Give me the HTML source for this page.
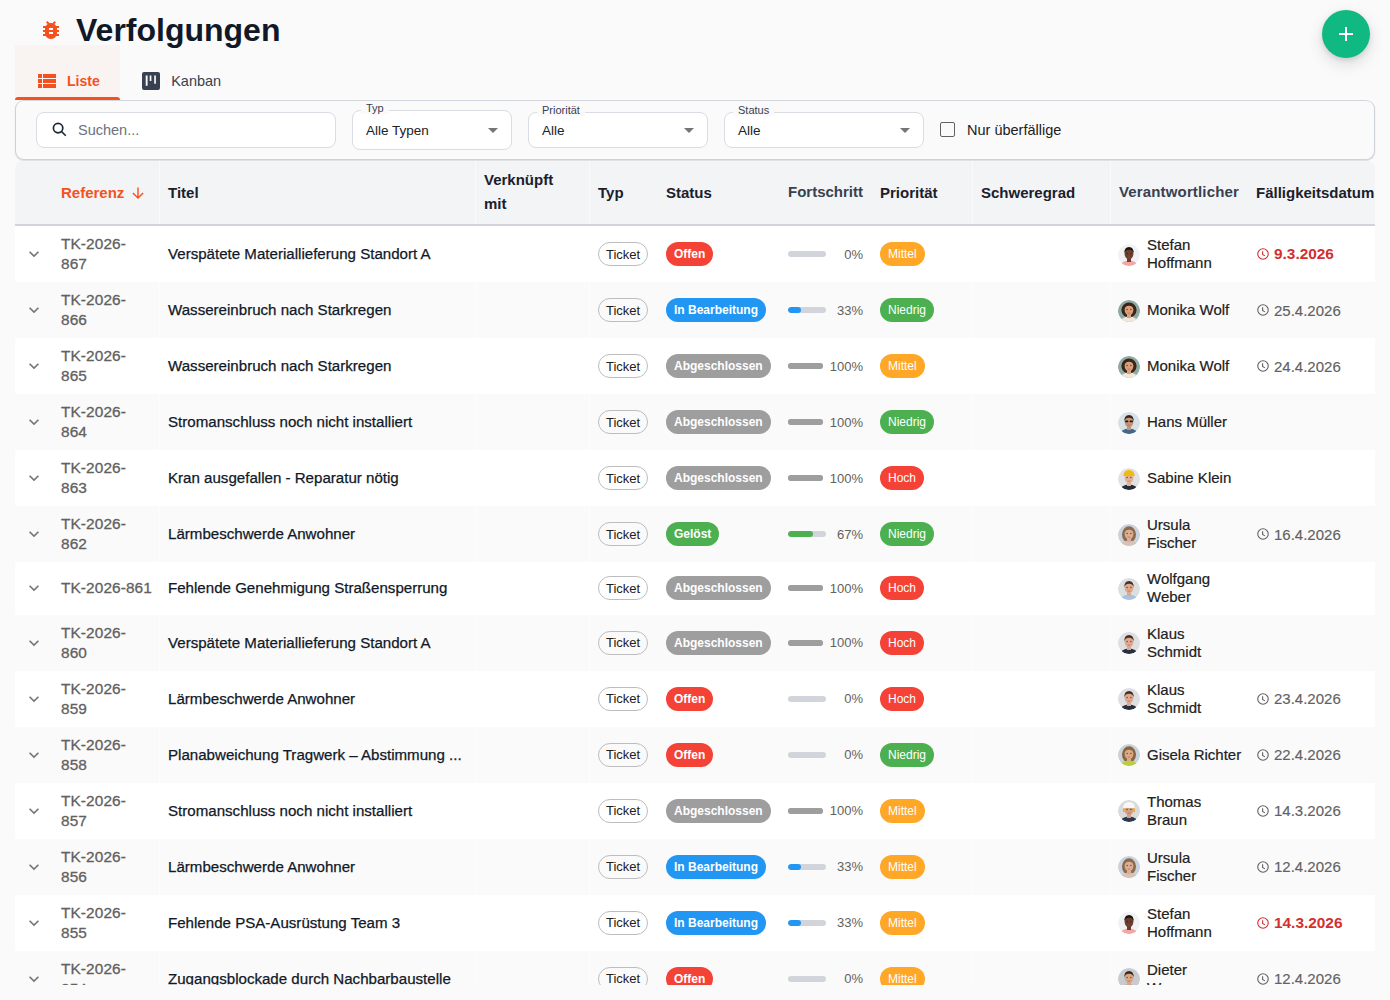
<!DOCTYPE html>
<html><head><meta charset="utf-8"><style>
*{box-sizing:border-box;margin:0;padding:0}
html,body{width:1390px;height:1000px;overflow:hidden;background:#fafafa;font-family:"Liberation Sans", sans-serif;color:#111827}
.abs{position:absolute}
.title{position:absolute;left:76px;top:10px;font-size:32px;font-weight:700;color:#111827;line-height:40px;letter-spacing:0}
.tab{position:absolute;top:45px;height:55px;display:flex;align-items:center;font-size:15px}
.filter{position:absolute;left:15px;top:100px;width:1360px;height:60px;border:1px solid #cdd1d8;border-top-color:#d3d7dd;border-radius:9px;background:#fafafa;box-shadow:0 1px 1.5px rgba(0,0,0,.12)}
.inp{position:absolute;background:#fff;border:1px solid #d9dce2;border-radius:8px}
.lbl{position:absolute;font-size:11px;color:#374151;background:#fafafa;padding:0 5px;line-height:12px;margin-left:-1px}
.val{position:absolute;font-size:13.5px;color:#212121;line-height:18px}
.tri{position:absolute;width:0;height:0;border-left:5px solid transparent;border-right:5px solid transparent;border-top:5px solid #757575}
.tbl{position:absolute;left:15px;top:161px;width:1360px;height:824px;overflow:hidden;border-radius:8px 8px 0 0}
.thead{position:absolute;left:0;top:0;width:1360px;height:63px;background:#f3f4f6;border-bottom:2px solid #d1d5db;box-sizing:content-box}
.th{position:absolute;top:0;height:63px;display:flex;align-items:center;font-size:15px;font-weight:700;line-height:24px;color:#1a202c}
.th.l{color:#374151;margin-top:-1px}
.sep{position:absolute;top:0;width:1px;height:63px;background:#f9fafb}
.row{position:absolute;left:15px;width:1360px}
.c{position:absolute;top:0;bottom:0;display:flex;align-items:center}
.ref{font-size:15.4px;line-height:20px;color:#616161;letter-spacing:.1px;-webkit-text-stroke:0.3px #616161}
.ttl{font-size:15.1px;line-height:20px;color:#111827;white-space:nowrap;-webkit-text-stroke:0.25px #111827}
.chip-o{display:inline-flex;align-items:center;height:24px;padding:0 7px;border:1px solid #bdbdbd;border-radius:12px;font-size:13px;color:#212121;background:transparent}
.chip-s{display:inline-flex;align-items:center;height:24px;padding:0 8px;border-radius:12px;font-size:12px;font-weight:700;color:#fff;white-space:nowrap}
.chip-p{display:inline-flex;align-items:center;height:24px;padding:0 8px;border-radius:12px;font-size:12px;color:#fff}
.prog{justify-content:space-between}
.bar{position:relative;height:6px;border-radius:3px;overflow:hidden}
.pct{font-size:13px;color:#616161}
.resp .av{display:block;width:22px;height:22px;border-radius:50%;overflow:hidden;margin-right:7px;flex:none;margin-top:1px}
.nm{font-size:15px;line-height:18px;color:#212121;-webkit-text-stroke:0.2px #212121}
.due{font-size:15px;color:#616161;-webkit-text-stroke:0.15px #616161}
.due span{margin-left:5px}
.due.od{color:#d32f2f;font-weight:700;font-size:15.4px;-webkit-text-stroke:0 transparent}
.fab{position:absolute;left:1322px;top:10px;width:48px;height:48px;border-radius:50%;background:#10b981;box-shadow:0 6px 16px rgba(0,0,0,.13),0 2px 5px rgba(0,0,0,.1)}
</style></head><body>
<svg class="abs" style="left:39px;top:18px" width="24" height="24" viewBox="0 0 24 24"><path fill="#f4511e" d="M20 8h-2.81c-.45-.78-1.07-1.45-1.82-1.96L17 4.41 15.59 3l-2.17 2.17C12.96 5.06 12.49 5 12 5c-.49 0-.96.06-1.41.17L8.41 3 7 4.41l1.62 1.63C7.88 6.55 7.26 7.22 6.81 8H4v2h2.09c-.05.33-.09.66-.09 1v1H4v2h2v1c0 .34.04.67.09 1H4v2h2.81c1.04 1.79 2.97 3 5.19 3s4.15-1.21 5.19-3H20v-2h-2.09c.05-.33.09-.66.09-1v-1h2v-2h-2v-1c0-.34-.04-.67-.09-1H20V8zm-6 8h-4v-2h4v2zm0-4h-4v-2h4v2z"/></svg>
<div class="title">Verfolgungen</div>

<div class="abs" style="left:15px;top:45px;width:104.5px;height:55px;background:#f9f4f1"></div>
<div class="abs" style="left:15px;top:97px;width:104.5px;height:3px;background:#f4511e;border-radius:3px 3px 0 0"></div>
<svg class="abs" style="left:35px;top:69px" width="24" height="24" viewBox="0 0 24 24"><path fill="#f4511e" d="M3 14h4v-4H3v4zm0 5h4v-4H3v4zM3 9h4V5H3v4zm5 5h13v-4H8v4zm0 5h13v-4H8v4zM8 5v4h13V5H8z"/></svg>
<div class="abs" style="left:67px;top:72px;font-size:14px;font-weight:700;color:#f4511e;line-height:18px">Liste</div>
<svg class="abs" style="left:139px;top:69px" width="24" height="24" viewBox="0 0 24 24"><path fill="#374151" fill-rule="evenodd" d="M19 3H5a2 2 0 0 0-2 2v14a2 2 0 0 0 2 2h14a2 2 0 0 0 2-2V5a2 2 0 0 0-2-2zM8.6 16.7H6.7V6.4h1.9zM12.4 12H10.7V6.4h1.7zM16.9 14.7H15.2V6.4h1.7z"/></svg>
<div class="abs" style="left:171.2px;top:72px;font-size:14.5px;color:#374151;line-height:18px">Kanban</div>

<div class="filter"></div>
<div class="inp" style="left:36px;top:112px;width:300px;height:36px"></div>
<svg class="abs" style="left:52px;top:122px" width="15" height="15" viewBox="0 0 15 15"><circle cx="6.1" cy="6.1" r="4.7" fill="none" stroke="#1f2937" stroke-width="1.7"/><path d="M9.6 9.6L13.8 13.8" stroke="#1f2937" stroke-width="1.6" fill="none"/></svg>
<div class="val" style="left:78px;top:121px;color:#6b7280;font-size:14.5px">Suchen...</div>

<div class="inp" style="left:352px;top:110px;width:160px;height:40px"></div>
<div class="lbl" style="left:362px;top:102px">Typ</div>
<div class="val" style="left:366px;top:122px">Alle Typen</div>
<div class="tri" style="left:488px;top:128px"></div>

<div class="inp" style="left:528px;top:112px;width:180px;height:36px"></div>
<div class="lbl" style="left:538px;top:104px">Priorität</div>
<div class="val" style="left:542px;top:122px">Alle</div>
<div class="tri" style="left:684px;top:128px"></div>

<div class="inp" style="left:724px;top:112px;width:200px;height:36px"></div>
<div class="lbl" style="left:734px;top:104px">Status</div>
<div class="val" style="left:738px;top:122px">Alle</div>
<div class="tri" style="left:900px;top:128px"></div>

<div class="abs" style="left:940.3px;top:122.4px;width:15.2px;height:15px;border:1.8px solid #616161;border-radius:2px"></div>
<div class="val" style="left:967px;top:121px;font-size:14.5px">Nur überfällige</div>

<div class="tbl">
<div class="thead">
 <div class="th" style="left:46px;color:#f4511e">Referenz<svg style="margin-left:8px;margin-top:1px" width="12" height="12" viewBox="0 0 12 12"><path d="M6 .6V11M.9 5.9L6 11l5.1-5.1" fill="none" stroke="#f4511e" stroke-width="1.4"/></svg></div>
 <div class="th" style="left:153px">Titel</div>
 <div class="th" style="left:469px;margin-top:-0.6px">Verknüpft<br>mit</div>
 <div class="th" style="left:583px">Typ</div>
 <div class="th" style="left:651px">Status</div>
 <div class="th l" style="left:773px">Fortschritt</div>
 <div class="th" style="left:865px">Priorität</div>
 <div class="th" style="left:966px">Schweregrad</div>
 <div class="th l" style="left:1104px;letter-spacing:.15px">Verantwortlicher</div>
 <div class="th" style="left:1241px">Fälligkeitsdatum</div>
 <div class="sep" style="left:144px"></div>
 <div class="sep" style="left:460px"></div>
 <div class="sep" style="left:574px"></div>
 <div class="sep" style="left:957px"></div>
 <div class="sep" style="left:1095px"></div>
</div>
</div>
<div class="abs" style="left:15px;top:226px;width:1360px;height:759px;overflow:hidden">
<div style="position:absolute;left:-15px;top:-226px">
<div class="row" style="top:226px;height:56px;background:#fff"><div class="c" style="left:9px"><svg width="20" height="20" viewBox="0 0 24 24" style="display:block"><path fill="#757575" d="M16.59 8.59L12 13.17 7.41 8.59 6 10l6 6 6-6z"/></svg></div><div class="c ref" style="left:46px">TK-2026-<br>867</div><div class="c ttl" style="left:153px">Verspätete Materiallieferung Standort A</div><div class="c" style="left:583px"><span class="chip-o">Ticket</span></div><div class="c" style="left:651px"><span class="chip-s" style="background:#f44336">Offen</span></div><div class="c prog" style="left:773px;width:75px"><div class="bar" style="width:38px;background:#d1d5db"></div><span class="pct">0%</span></div><div class="c" style="left:865px"><span class="chip-p" style="background:#ffa726">Mittel</span></div><div class="c resp" style="left:1103px"><span class="av"><svg width="22" height="22" viewBox="-0.5 -0.5 22 22" style="display:block"><defs><clipPath id="c_stefan"><circle cx="10.5" cy="10.5" r="11"/></clipPath></defs><g clip-path="url(#c_stefan)"><rect x="-0.5" y="-0.5" width="22" height="22" fill="#f2f2f4"/><ellipse cx="10.5" cy="22.5" rx="9.5" ry="6.5" fill="#f3a6a2"/><rect x="8.5" y="12.5" width="4" height="5" fill="#6b3e2e"/><ellipse cx="10.5" cy="9.3" rx="4.4" ry="5.6" fill="#6b3e2e"/><path d="M5.9 9 Q5.5 2.4 10.5 2.4 Q15.5 2.4 15.1 9 Q14.6 5.6 10.5 5.3 Q6.4 5.6 5.9 9Z" fill="#1e1410"/><circle cx="8.6" cy="9" r=".65" fill="#2a1e18" opacity=".8"/><circle cx="12.4" cy="9" r=".65" fill="#2a1e18" opacity=".8"/><path d="M9.2 12.4 Q10.5 13.2 11.8 12.4" stroke="#a05050" stroke-width=".7" fill="none" opacity=".7"/></g></svg></span><span class="nm">Stefan<br>Hoffmann</span></div><div class="c due od" style="left:1242px"><svg width="12" height="12" viewBox="0 0 12 12" style="display:block;flex:none"><circle cx="6" cy="6" r="5.25" fill="none" stroke="#d32f2f" stroke-width="1.1"/><path d="M5.6 3.2V6.4L7.9 7.9" fill="none" stroke="#d32f2f" stroke-width="1.1"/></svg><span>9.3.2026</span></div></div>
<div class="row" style="top:282px;height:56px;background:#fafafa"><div style="position:absolute;left:1095px;top:0;bottom:0;width:1px;background:#fdfdfd"></div><div style="position:absolute;left:957px;top:0;bottom:0;width:1px;background:#fdfdfd"></div><div style="position:absolute;left:574px;top:0;bottom:0;width:1px;background:#fdfdfd"></div><div style="position:absolute;left:460px;top:0;bottom:0;width:1px;background:#fdfdfd"></div><div style="position:absolute;left:144px;top:0;bottom:0;width:1px;background:#fdfdfd"></div><div class="c" style="left:9px"><svg width="20" height="20" viewBox="0 0 24 24" style="display:block"><path fill="#757575" d="M16.59 8.59L12 13.17 7.41 8.59 6 10l6 6 6-6z"/></svg></div><div class="c ref" style="left:46px">TK-2026-<br>866</div><div class="c ttl" style="left:153px">Wassereinbruch nach Starkregen</div><div class="c" style="left:583px"><span class="chip-o">Ticket</span></div><div class="c" style="left:651px"><span class="chip-s" style="background:#2196f3">In Bearbeitung</span></div><div class="c prog" style="left:773px;width:75px"><div class="bar" style="width:38px;background:#d1d5db"><div style="position:absolute;left:0;top:0;bottom:0;width:33%;background:#2196f3;border-radius:3px"></div></div><span class="pct">33%</span></div><div class="c" style="left:865px"><span class="chip-p" style="background:#4caf50">Niedrig</span></div><div class="c resp" style="left:1103px"><span class="av"><svg width="22" height="22" viewBox="-0.5 -0.5 22 22" style="display:block"><defs><clipPath id="c_monika"><circle cx="10.5" cy="10.5" r="11"/></clipPath></defs><g clip-path="url(#c_monika)"><rect x="-0.5" y="-0.5" width="22" height="22" fill="#8faaa2"/><ellipse cx="10.5" cy="9.5" rx="7.6" ry="7.4" fill="#3a2618"/><ellipse cx="10.5" cy="22.5" rx="9.5" ry="6.5" fill="#efe6dc"/><rect x="8.5" y="12.5" width="4" height="5" fill="#d8a07c"/><ellipse cx="10.5" cy="9.3" rx="4.4" ry="5.6" fill="#d8a07c"/><path d="M5.9 9 Q5.5 2.4 10.5 2.4 Q15.5 2.4 15.1 9 Q14.6 5.6 10.5 5.3 Q6.4 5.6 5.9 9Z" fill="#3a2618"/><circle cx="8.6" cy="9" r=".65" fill="#2a1e18" opacity=".8"/><circle cx="12.4" cy="9" r=".65" fill="#2a1e18" opacity=".8"/><path d="M9.2 12.4 Q10.5 13.2 11.8 12.4" stroke="#a05050" stroke-width=".7" fill="none" opacity=".7"/></g></svg></span><span class="nm">Monika Wolf</span></div><div class="c due" style="left:1242px"><svg width="12" height="12" viewBox="0 0 12 12" style="display:block;flex:none"><circle cx="6" cy="6" r="5.25" fill="none" stroke="#616161" stroke-width="1.1"/><path d="M5.6 3.2V6.4L7.9 7.9" fill="none" stroke="#616161" stroke-width="1.1"/></svg><span>25.4.2026</span></div></div>
<div class="row" style="top:338px;height:56px;background:#fff"><div class="c" style="left:9px"><svg width="20" height="20" viewBox="0 0 24 24" style="display:block"><path fill="#757575" d="M16.59 8.59L12 13.17 7.41 8.59 6 10l6 6 6-6z"/></svg></div><div class="c ref" style="left:46px">TK-2026-<br>865</div><div class="c ttl" style="left:153px">Wassereinbruch nach Starkregen</div><div class="c" style="left:583px"><span class="chip-o">Ticket</span></div><div class="c" style="left:651px"><span class="chip-s" style="background:#9e9e9e">Abgeschlossen</span></div><div class="c prog" style="left:773px;width:75px"><div class="bar" style="width:35px;background:#9e9e9e"><div style="position:absolute;left:0;top:0;bottom:0;width:100%;background:#9e9e9e;border-radius:3px"></div></div><span class="pct">100%</span></div><div class="c" style="left:865px"><span class="chip-p" style="background:#ffa726">Mittel</span></div><div class="c resp" style="left:1103px"><span class="av"><svg width="22" height="22" viewBox="-0.5 -0.5 22 22" style="display:block"><defs><clipPath id="c_monika"><circle cx="10.5" cy="10.5" r="11"/></clipPath></defs><g clip-path="url(#c_monika)"><rect x="-0.5" y="-0.5" width="22" height="22" fill="#8faaa2"/><ellipse cx="10.5" cy="9.5" rx="7.6" ry="7.4" fill="#3a2618"/><ellipse cx="10.5" cy="22.5" rx="9.5" ry="6.5" fill="#efe6dc"/><rect x="8.5" y="12.5" width="4" height="5" fill="#d8a07c"/><ellipse cx="10.5" cy="9.3" rx="4.4" ry="5.6" fill="#d8a07c"/><path d="M5.9 9 Q5.5 2.4 10.5 2.4 Q15.5 2.4 15.1 9 Q14.6 5.6 10.5 5.3 Q6.4 5.6 5.9 9Z" fill="#3a2618"/><circle cx="8.6" cy="9" r=".65" fill="#2a1e18" opacity=".8"/><circle cx="12.4" cy="9" r=".65" fill="#2a1e18" opacity=".8"/><path d="M9.2 12.4 Q10.5 13.2 11.8 12.4" stroke="#a05050" stroke-width=".7" fill="none" opacity=".7"/></g></svg></span><span class="nm">Monika Wolf</span></div><div class="c due" style="left:1242px"><svg width="12" height="12" viewBox="0 0 12 12" style="display:block;flex:none"><circle cx="6" cy="6" r="5.25" fill="none" stroke="#616161" stroke-width="1.1"/><path d="M5.6 3.2V6.4L7.9 7.9" fill="none" stroke="#616161" stroke-width="1.1"/></svg><span>24.4.2026</span></div></div>
<div class="row" style="top:394px;height:56px;background:#fafafa"><div style="position:absolute;left:1095px;top:0;bottom:0;width:1px;background:#fdfdfd"></div><div style="position:absolute;left:957px;top:0;bottom:0;width:1px;background:#fdfdfd"></div><div style="position:absolute;left:574px;top:0;bottom:0;width:1px;background:#fdfdfd"></div><div style="position:absolute;left:460px;top:0;bottom:0;width:1px;background:#fdfdfd"></div><div style="position:absolute;left:144px;top:0;bottom:0;width:1px;background:#fdfdfd"></div><div class="c" style="left:9px"><svg width="20" height="20" viewBox="0 0 24 24" style="display:block"><path fill="#757575" d="M16.59 8.59L12 13.17 7.41 8.59 6 10l6 6 6-6z"/></svg></div><div class="c ref" style="left:46px">TK-2026-<br>864</div><div class="c ttl" style="left:153px">Stromanschluss noch nicht installiert</div><div class="c" style="left:583px"><span class="chip-o">Ticket</span></div><div class="c" style="left:651px"><span class="chip-s" style="background:#9e9e9e">Abgeschlossen</span></div><div class="c prog" style="left:773px;width:75px"><div class="bar" style="width:35px;background:#9e9e9e"><div style="position:absolute;left:0;top:0;bottom:0;width:100%;background:#9e9e9e;border-radius:3px"></div></div><span class="pct">100%</span></div><div class="c" style="left:865px"><span class="chip-p" style="background:#4caf50">Niedrig</span></div><div class="c resp" style="left:1103px"><span class="av"><svg width="22" height="22" viewBox="-0.5 -0.5 22 22" style="display:block"><defs><clipPath id="c_hans"><circle cx="10.5" cy="10.5" r="11"/></clipPath></defs><g clip-path="url(#c_hans)"><rect x="-0.5" y="-0.5" width="22" height="22" fill="#d6e2e8"/><ellipse cx="10.5" cy="22.5" rx="9.5" ry="6.5" fill="#46668a"/><rect x="8.5" y="12.5" width="4" height="5" fill="#c89478"/><ellipse cx="10.5" cy="9.3" rx="4.4" ry="5.6" fill="#c89478"/><path d="M5.9 9 Q5.5 2.4 10.5 2.4 Q15.5 2.4 15.1 9 Q14.6 5.6 10.5 5.3 Q6.4 5.6 5.9 9Z" fill="#3a2a1e"/><rect x="6.6" y="8.1" width="3.2" height="1.7" rx=".6" fill="#1a1a1a"/><rect x="11.2" y="8.1" width="3.2" height="1.7" rx=".6" fill="#1a1a1a"/><path d="M9.2 12.4 Q10.5 13.2 11.8 12.4" stroke="#a05050" stroke-width=".7" fill="none" opacity=".7"/></g></svg></span><span class="nm">Hans Müller</span></div></div>
<div class="row" style="top:450px;height:56px;background:#fff"><div class="c" style="left:9px"><svg width="20" height="20" viewBox="0 0 24 24" style="display:block"><path fill="#757575" d="M16.59 8.59L12 13.17 7.41 8.59 6 10l6 6 6-6z"/></svg></div><div class="c ref" style="left:46px">TK-2026-<br>863</div><div class="c ttl" style="left:153px">Kran ausgefallen - Reparatur nötig</div><div class="c" style="left:583px"><span class="chip-o">Ticket</span></div><div class="c" style="left:651px"><span class="chip-s" style="background:#9e9e9e">Abgeschlossen</span></div><div class="c prog" style="left:773px;width:75px"><div class="bar" style="width:35px;background:#9e9e9e"><div style="position:absolute;left:0;top:0;bottom:0;width:100%;background:#9e9e9e;border-radius:3px"></div></div><span class="pct">100%</span></div><div class="c" style="left:865px"><span class="chip-p" style="background:#f44336">Hoch</span></div><div class="c resp" style="left:1103px"><span class="av"><svg width="22" height="22" viewBox="-0.5 -0.5 22 22" style="display:block"><defs><clipPath id="c_sabine"><circle cx="10.5" cy="10.5" r="11"/></clipPath></defs><g clip-path="url(#c_sabine)"><rect x="-0.5" y="-0.5" width="22" height="22" fill="#e2e2e6"/><ellipse cx="10.5" cy="22.5" rx="9.5" ry="6.5" fill="#262c3c"/><rect x="8.5" y="12.5" width="4" height="5" fill="#e2b294"/><ellipse cx="10.5" cy="9.3" rx="4.4" ry="5.6" fill="#e2b294"/><path d="M4.8 7.6 Q5 1.6 10.5 1.6 Q16 1.6 16.2 7.6 Z" fill="#f2b90f"/><circle cx="8.6" cy="9" r=".65" fill="#2a1e18" opacity=".8"/><circle cx="12.4" cy="9" r=".65" fill="#2a1e18" opacity=".8"/><path d="M9.2 12.4 Q10.5 13.2 11.8 12.4" stroke="#a05050" stroke-width=".7" fill="none" opacity=".7"/></g></svg></span><span class="nm">Sabine Klein</span></div></div>
<div class="row" style="top:506px;height:56px;background:#fafafa"><div style="position:absolute;left:1095px;top:0;bottom:0;width:1px;background:#fdfdfd"></div><div style="position:absolute;left:957px;top:0;bottom:0;width:1px;background:#fdfdfd"></div><div style="position:absolute;left:574px;top:0;bottom:0;width:1px;background:#fdfdfd"></div><div style="position:absolute;left:460px;top:0;bottom:0;width:1px;background:#fdfdfd"></div><div style="position:absolute;left:144px;top:0;bottom:0;width:1px;background:#fdfdfd"></div><div class="c" style="left:9px"><svg width="20" height="20" viewBox="0 0 24 24" style="display:block"><path fill="#757575" d="M16.59 8.59L12 13.17 7.41 8.59 6 10l6 6 6-6z"/></svg></div><div class="c ref" style="left:46px">TK-2026-<br>862</div><div class="c ttl" style="left:153px">Lärmbeschwerde Anwohner</div><div class="c" style="left:583px"><span class="chip-o">Ticket</span></div><div class="c" style="left:651px"><span class="chip-s" style="background:#4caf50">Gelöst</span></div><div class="c prog" style="left:773px;width:75px"><div class="bar" style="width:38px;background:#d1d5db"><div style="position:absolute;left:0;top:0;bottom:0;width:67%;background:#4caf50;border-radius:3px"></div></div><span class="pct">67%</span></div><div class="c" style="left:865px"><span class="chip-p" style="background:#4caf50">Niedrig</span></div><div class="c resp" style="left:1103px"><span class="av"><svg width="22" height="22" viewBox="-0.5 -0.5 22 22" style="display:block"><defs><clipPath id="c_ursula"><circle cx="10.5" cy="10.5" r="11"/></clipPath></defs><g clip-path="url(#c_ursula)"><rect x="-0.5" y="-0.5" width="22" height="22" fill="#c9d3de"/><ellipse cx="10.5" cy="10" rx="7" ry="8.2" fill="#8c6a4c"/><ellipse cx="10.5" cy="22.5" rx="9.5" ry="6.5" fill="#d6c2b8"/><rect x="8.5" y="12.5" width="4" height="5" fill="#dcae96"/><ellipse cx="10.5" cy="9.3" rx="4.4" ry="5.6" fill="#dcae96"/><path d="M5.9 9 Q5.5 2.4 10.5 2.4 Q15.5 2.4 15.1 9 Q14.6 5.6 10.5 5.3 Q6.4 5.6 5.9 9Z" fill="#8c6a4c"/><circle cx="8.6" cy="9" r=".65" fill="#2a1e18" opacity=".8"/><circle cx="12.4" cy="9" r=".65" fill="#2a1e18" opacity=".8"/><path d="M9.2 12.4 Q10.5 13.2 11.8 12.4" stroke="#a05050" stroke-width=".7" fill="none" opacity=".7"/></g></svg></span><span class="nm">Ursula<br>Fischer</span></div><div class="c due" style="left:1242px"><svg width="12" height="12" viewBox="0 0 12 12" style="display:block;flex:none"><circle cx="6" cy="6" r="5.25" fill="none" stroke="#616161" stroke-width="1.1"/><path d="M5.6 3.2V6.4L7.9 7.9" fill="none" stroke="#616161" stroke-width="1.1"/></svg><span>16.4.2026</span></div></div>
<div class="row" style="top:562px;height:52.5px;background:#fff"><div class="c" style="left:9px"><svg width="20" height="20" viewBox="0 0 24 24" style="display:block"><path fill="#757575" d="M16.59 8.59L12 13.17 7.41 8.59 6 10l6 6 6-6z"/></svg></div><div class="c ref" style="left:46px">TK-2026-861</div><div class="c ttl" style="left:153px">Fehlende Genehmigung Straßensperrung</div><div class="c" style="left:583px"><span class="chip-o">Ticket</span></div><div class="c" style="left:651px"><span class="chip-s" style="background:#9e9e9e">Abgeschlossen</span></div><div class="c prog" style="left:773px;width:75px"><div class="bar" style="width:35px;background:#9e9e9e"><div style="position:absolute;left:0;top:0;bottom:0;width:100%;background:#9e9e9e;border-radius:3px"></div></div><span class="pct">100%</span></div><div class="c" style="left:865px"><span class="chip-p" style="background:#f44336">Hoch</span></div><div class="c resp" style="left:1103px"><span class="av"><svg width="22" height="22" viewBox="-0.5 -0.5 22 22" style="display:block"><defs><clipPath id="c_wolfgang"><circle cx="10.5" cy="10.5" r="11"/></clipPath></defs><g clip-path="url(#c_wolfgang)"><rect x="-0.5" y="-0.5" width="22" height="22" fill="#dcdfe2"/><ellipse cx="10.5" cy="22.5" rx="9.5" ry="6.5" fill="#a8c2e0"/><rect x="8.5" y="12.5" width="4" height="5" fill="#dcaa8c"/><ellipse cx="10.5" cy="9.3" rx="4.4" ry="5.6" fill="#dcaa8c"/><path d="M5.9 9 Q5.5 2.4 10.5 2.4 Q15.5 2.4 15.1 9 Q14.6 5.6 10.5 5.3 Q6.4 5.6 5.9 9Z" fill="#4a3222"/><circle cx="8.6" cy="9" r=".65" fill="#2a1e18" opacity=".8"/><circle cx="12.4" cy="9" r=".65" fill="#2a1e18" opacity=".8"/><path d="M9.2 12.4 Q10.5 13.2 11.8 12.4" stroke="#a05050" stroke-width=".7" fill="none" opacity=".7"/></g></svg></span><span class="nm">Wolfgang<br>Weber</span></div></div>
<div class="row" style="top:614.5px;height:56px;background:#fafafa"><div style="position:absolute;left:1095px;top:0;bottom:0;width:1px;background:#fdfdfd"></div><div style="position:absolute;left:957px;top:0;bottom:0;width:1px;background:#fdfdfd"></div><div style="position:absolute;left:574px;top:0;bottom:0;width:1px;background:#fdfdfd"></div><div style="position:absolute;left:460px;top:0;bottom:0;width:1px;background:#fdfdfd"></div><div style="position:absolute;left:144px;top:0;bottom:0;width:1px;background:#fdfdfd"></div><div class="c" style="left:9px"><svg width="20" height="20" viewBox="0 0 24 24" style="display:block"><path fill="#757575" d="M16.59 8.59L12 13.17 7.41 8.59 6 10l6 6 6-6z"/></svg></div><div class="c ref" style="left:46px">TK-2026-<br>860</div><div class="c ttl" style="left:153px">Verspätete Materiallieferung Standort A</div><div class="c" style="left:583px"><span class="chip-o">Ticket</span></div><div class="c" style="left:651px"><span class="chip-s" style="background:#9e9e9e">Abgeschlossen</span></div><div class="c prog" style="left:773px;width:75px"><div class="bar" style="width:35px;background:#9e9e9e"><div style="position:absolute;left:0;top:0;bottom:0;width:100%;background:#9e9e9e;border-radius:3px"></div></div><span class="pct">100%</span></div><div class="c" style="left:865px"><span class="chip-p" style="background:#f44336">Hoch</span></div><div class="c resp" style="left:1103px"><span class="av"><svg width="22" height="22" viewBox="-0.5 -0.5 22 22" style="display:block"><defs><clipPath id="c_klaus"><circle cx="10.5" cy="10.5" r="11"/></clipPath></defs><g clip-path="url(#c_klaus)"><rect x="-0.5" y="-0.5" width="22" height="22" fill="#dedfe2"/><ellipse cx="10.5" cy="22.5" rx="9.5" ry="6.5" fill="#283040"/><rect x="8.5" y="12.5" width="4" height="5" fill="#dcaa90"/><ellipse cx="10.5" cy="9.3" rx="4.4" ry="5.6" fill="#dcaa90"/><path d="M5.9 9 Q5.5 2.4 10.5 2.4 Q15.5 2.4 15.1 9 Q14.6 5.6 10.5 5.3 Q6.4 5.6 5.9 9Z" fill="#4a3020"/><circle cx="8.6" cy="9" r=".65" fill="#2a1e18" opacity=".8"/><circle cx="12.4" cy="9" r=".65" fill="#2a1e18" opacity=".8"/><path d="M9.2 12.4 Q10.5 13.2 11.8 12.4" stroke="#a05050" stroke-width=".7" fill="none" opacity=".7"/></g></svg></span><span class="nm">Klaus<br>Schmidt</span></div></div>
<div class="row" style="top:670.5px;height:56px;background:#fff"><div class="c" style="left:9px"><svg width="20" height="20" viewBox="0 0 24 24" style="display:block"><path fill="#757575" d="M16.59 8.59L12 13.17 7.41 8.59 6 10l6 6 6-6z"/></svg></div><div class="c ref" style="left:46px">TK-2026-<br>859</div><div class="c ttl" style="left:153px">Lärmbeschwerde Anwohner</div><div class="c" style="left:583px"><span class="chip-o">Ticket</span></div><div class="c" style="left:651px"><span class="chip-s" style="background:#f44336">Offen</span></div><div class="c prog" style="left:773px;width:75px"><div class="bar" style="width:38px;background:#d1d5db"></div><span class="pct">0%</span></div><div class="c" style="left:865px"><span class="chip-p" style="background:#f44336">Hoch</span></div><div class="c resp" style="left:1103px"><span class="av"><svg width="22" height="22" viewBox="-0.5 -0.5 22 22" style="display:block"><defs><clipPath id="c_klaus"><circle cx="10.5" cy="10.5" r="11"/></clipPath></defs><g clip-path="url(#c_klaus)"><rect x="-0.5" y="-0.5" width="22" height="22" fill="#dedfe2"/><ellipse cx="10.5" cy="22.5" rx="9.5" ry="6.5" fill="#283040"/><rect x="8.5" y="12.5" width="4" height="5" fill="#dcaa90"/><ellipse cx="10.5" cy="9.3" rx="4.4" ry="5.6" fill="#dcaa90"/><path d="M5.9 9 Q5.5 2.4 10.5 2.4 Q15.5 2.4 15.1 9 Q14.6 5.6 10.5 5.3 Q6.4 5.6 5.9 9Z" fill="#4a3020"/><circle cx="8.6" cy="9" r=".65" fill="#2a1e18" opacity=".8"/><circle cx="12.4" cy="9" r=".65" fill="#2a1e18" opacity=".8"/><path d="M9.2 12.4 Q10.5 13.2 11.8 12.4" stroke="#a05050" stroke-width=".7" fill="none" opacity=".7"/></g></svg></span><span class="nm">Klaus<br>Schmidt</span></div><div class="c due" style="left:1242px"><svg width="12" height="12" viewBox="0 0 12 12" style="display:block;flex:none"><circle cx="6" cy="6" r="5.25" fill="none" stroke="#616161" stroke-width="1.1"/><path d="M5.6 3.2V6.4L7.9 7.9" fill="none" stroke="#616161" stroke-width="1.1"/></svg><span>23.4.2026</span></div></div>
<div class="row" style="top:726.5px;height:56px;background:#fafafa"><div style="position:absolute;left:1095px;top:0;bottom:0;width:1px;background:#fdfdfd"></div><div style="position:absolute;left:957px;top:0;bottom:0;width:1px;background:#fdfdfd"></div><div style="position:absolute;left:574px;top:0;bottom:0;width:1px;background:#fdfdfd"></div><div style="position:absolute;left:460px;top:0;bottom:0;width:1px;background:#fdfdfd"></div><div style="position:absolute;left:144px;top:0;bottom:0;width:1px;background:#fdfdfd"></div><div class="c" style="left:9px"><svg width="20" height="20" viewBox="0 0 24 24" style="display:block"><path fill="#757575" d="M16.59 8.59L12 13.17 7.41 8.59 6 10l6 6 6-6z"/></svg></div><div class="c ref" style="left:46px">TK-2026-<br>858</div><div class="c ttl" style="left:153px">Planabweichung Tragwerk – Abstimmung ...</div><div class="c" style="left:583px"><span class="chip-o">Ticket</span></div><div class="c" style="left:651px"><span class="chip-s" style="background:#f44336">Offen</span></div><div class="c prog" style="left:773px;width:75px"><div class="bar" style="width:38px;background:#d1d5db"></div><span class="pct">0%</span></div><div class="c" style="left:865px"><span class="chip-p" style="background:#4caf50">Niedrig</span></div><div class="c resp" style="left:1103px"><span class="av"><svg width="22" height="22" viewBox="-0.5 -0.5 22 22" style="display:block"><defs><clipPath id="c_gisela"><circle cx="10.5" cy="10.5" r="11"/></clipPath></defs><g clip-path="url(#c_gisela)"><rect x="-0.5" y="-0.5" width="22" height="22" fill="#c8d2d8"/><ellipse cx="10.5" cy="10" rx="7" ry="8.2" fill="#8a6440"/><ellipse cx="10.5" cy="22.5" rx="9.5" ry="6.5" fill="#b8d040"/><rect x="8.5" y="12.5" width="4" height="5" fill="#dcaa8a"/><ellipse cx="10.5" cy="9.3" rx="4.4" ry="5.6" fill="#dcaa8a"/><path d="M5.9 9 Q5.5 2.4 10.5 2.4 Q15.5 2.4 15.1 9 Q14.6 5.6 10.5 5.3 Q6.4 5.6 5.9 9Z" fill="#8a6440"/><circle cx="8.6" cy="9" r=".65" fill="#2a1e18" opacity=".8"/><circle cx="12.4" cy="9" r=".65" fill="#2a1e18" opacity=".8"/><path d="M9.2 12.4 Q10.5 13.2 11.8 12.4" stroke="#a05050" stroke-width=".7" fill="none" opacity=".7"/></g></svg></span><span class="nm">Gisela Richter</span></div><div class="c due" style="left:1242px"><svg width="12" height="12" viewBox="0 0 12 12" style="display:block;flex:none"><circle cx="6" cy="6" r="5.25" fill="none" stroke="#616161" stroke-width="1.1"/><path d="M5.6 3.2V6.4L7.9 7.9" fill="none" stroke="#616161" stroke-width="1.1"/></svg><span>22.4.2026</span></div></div>
<div class="row" style="top:782.5px;height:56px;background:#fff"><div class="c" style="left:9px"><svg width="20" height="20" viewBox="0 0 24 24" style="display:block"><path fill="#757575" d="M16.59 8.59L12 13.17 7.41 8.59 6 10l6 6 6-6z"/></svg></div><div class="c ref" style="left:46px">TK-2026-<br>857</div><div class="c ttl" style="left:153px">Stromanschluss noch nicht installiert</div><div class="c" style="left:583px"><span class="chip-o">Ticket</span></div><div class="c" style="left:651px"><span class="chip-s" style="background:#9e9e9e">Abgeschlossen</span></div><div class="c prog" style="left:773px;width:75px"><div class="bar" style="width:35px;background:#9e9e9e"><div style="position:absolute;left:0;top:0;bottom:0;width:100%;background:#9e9e9e;border-radius:3px"></div></div><span class="pct">100%</span></div><div class="c" style="left:865px"><span class="chip-p" style="background:#ffa726">Mittel</span></div><div class="c resp" style="left:1103px"><span class="av"><svg width="22" height="22" viewBox="-0.5 -0.5 22 22" style="display:block"><defs><clipPath id="c_thomas"><circle cx="10.5" cy="10.5" r="11"/></clipPath></defs><g clip-path="url(#c_thomas)"><rect x="-0.5" y="-0.5" width="22" height="22" fill="#d8dadc"/><ellipse cx="10.5" cy="22.5" rx="9.5" ry="6.5" fill="#2e3850"/><rect x="8.5" y="12.5" width="4" height="5" fill="#d4a080"/><ellipse cx="10.5" cy="9.3" rx="4.4" ry="5.6" fill="#d4a080"/><path d="M4.6 7.6 Q4.8 1.4 10.5 1.4 Q16.2 1.4 16.4 7.6 Z" fill="#f7f7f7"/><rect x="4.6" y="8" width="1.6" height="3.4" fill="#f0a010"/><rect x="14.8" y="8" width="1.6" height="3.4" fill="#f0a010"/><circle cx="8.6" cy="9" r=".65" fill="#2a1e18" opacity=".8"/><circle cx="12.4" cy="9" r=".65" fill="#2a1e18" opacity=".8"/><path d="M9.2 12.4 Q10.5 13.2 11.8 12.4" stroke="#a05050" stroke-width=".7" fill="none" opacity=".7"/></g></svg></span><span class="nm">Thomas<br>Braun</span></div><div class="c due" style="left:1242px"><svg width="12" height="12" viewBox="0 0 12 12" style="display:block;flex:none"><circle cx="6" cy="6" r="5.25" fill="none" stroke="#616161" stroke-width="1.1"/><path d="M5.6 3.2V6.4L7.9 7.9" fill="none" stroke="#616161" stroke-width="1.1"/></svg><span>14.3.2026</span></div></div>
<div class="row" style="top:838.5px;height:56px;background:#fafafa"><div style="position:absolute;left:1095px;top:0;bottom:0;width:1px;background:#fdfdfd"></div><div style="position:absolute;left:957px;top:0;bottom:0;width:1px;background:#fdfdfd"></div><div style="position:absolute;left:574px;top:0;bottom:0;width:1px;background:#fdfdfd"></div><div style="position:absolute;left:460px;top:0;bottom:0;width:1px;background:#fdfdfd"></div><div style="position:absolute;left:144px;top:0;bottom:0;width:1px;background:#fdfdfd"></div><div class="c" style="left:9px"><svg width="20" height="20" viewBox="0 0 24 24" style="display:block"><path fill="#757575" d="M16.59 8.59L12 13.17 7.41 8.59 6 10l6 6 6-6z"/></svg></div><div class="c ref" style="left:46px">TK-2026-<br>856</div><div class="c ttl" style="left:153px">Lärmbeschwerde Anwohner</div><div class="c" style="left:583px"><span class="chip-o">Ticket</span></div><div class="c" style="left:651px"><span class="chip-s" style="background:#2196f3">In Bearbeitung</span></div><div class="c prog" style="left:773px;width:75px"><div class="bar" style="width:38px;background:#d1d5db"><div style="position:absolute;left:0;top:0;bottom:0;width:33%;background:#2196f3;border-radius:3px"></div></div><span class="pct">33%</span></div><div class="c" style="left:865px"><span class="chip-p" style="background:#ffa726">Mittel</span></div><div class="c resp" style="left:1103px"><span class="av"><svg width="22" height="22" viewBox="-0.5 -0.5 22 22" style="display:block"><defs><clipPath id="c_ursula"><circle cx="10.5" cy="10.5" r="11"/></clipPath></defs><g clip-path="url(#c_ursula)"><rect x="-0.5" y="-0.5" width="22" height="22" fill="#c9d3de"/><ellipse cx="10.5" cy="10" rx="7" ry="8.2" fill="#8c6a4c"/><ellipse cx="10.5" cy="22.5" rx="9.5" ry="6.5" fill="#d6c2b8"/><rect x="8.5" y="12.5" width="4" height="5" fill="#dcae96"/><ellipse cx="10.5" cy="9.3" rx="4.4" ry="5.6" fill="#dcae96"/><path d="M5.9 9 Q5.5 2.4 10.5 2.4 Q15.5 2.4 15.1 9 Q14.6 5.6 10.5 5.3 Q6.4 5.6 5.9 9Z" fill="#8c6a4c"/><circle cx="8.6" cy="9" r=".65" fill="#2a1e18" opacity=".8"/><circle cx="12.4" cy="9" r=".65" fill="#2a1e18" opacity=".8"/><path d="M9.2 12.4 Q10.5 13.2 11.8 12.4" stroke="#a05050" stroke-width=".7" fill="none" opacity=".7"/></g></svg></span><span class="nm">Ursula<br>Fischer</span></div><div class="c due" style="left:1242px"><svg width="12" height="12" viewBox="0 0 12 12" style="display:block;flex:none"><circle cx="6" cy="6" r="5.25" fill="none" stroke="#616161" stroke-width="1.1"/><path d="M5.6 3.2V6.4L7.9 7.9" fill="none" stroke="#616161" stroke-width="1.1"/></svg><span>12.4.2026</span></div></div>
<div class="row" style="top:894.5px;height:56px;background:#fff"><div class="c" style="left:9px"><svg width="20" height="20" viewBox="0 0 24 24" style="display:block"><path fill="#757575" d="M16.59 8.59L12 13.17 7.41 8.59 6 10l6 6 6-6z"/></svg></div><div class="c ref" style="left:46px">TK-2026-<br>855</div><div class="c ttl" style="left:153px">Fehlende PSA-Ausrüstung Team 3</div><div class="c" style="left:583px"><span class="chip-o">Ticket</span></div><div class="c" style="left:651px"><span class="chip-s" style="background:#2196f3">In Bearbeitung</span></div><div class="c prog" style="left:773px;width:75px"><div class="bar" style="width:38px;background:#d1d5db"><div style="position:absolute;left:0;top:0;bottom:0;width:33%;background:#2196f3;border-radius:3px"></div></div><span class="pct">33%</span></div><div class="c" style="left:865px"><span class="chip-p" style="background:#ffa726">Mittel</span></div><div class="c resp" style="left:1103px"><span class="av"><svg width="22" height="22" viewBox="-0.5 -0.5 22 22" style="display:block"><defs><clipPath id="c_stefan"><circle cx="10.5" cy="10.5" r="11"/></clipPath></defs><g clip-path="url(#c_stefan)"><rect x="-0.5" y="-0.5" width="22" height="22" fill="#f2f2f4"/><ellipse cx="10.5" cy="22.5" rx="9.5" ry="6.5" fill="#f3a6a2"/><rect x="8.5" y="12.5" width="4" height="5" fill="#6b3e2e"/><ellipse cx="10.5" cy="9.3" rx="4.4" ry="5.6" fill="#6b3e2e"/><path d="M5.9 9 Q5.5 2.4 10.5 2.4 Q15.5 2.4 15.1 9 Q14.6 5.6 10.5 5.3 Q6.4 5.6 5.9 9Z" fill="#1e1410"/><circle cx="8.6" cy="9" r=".65" fill="#2a1e18" opacity=".8"/><circle cx="12.4" cy="9" r=".65" fill="#2a1e18" opacity=".8"/><path d="M9.2 12.4 Q10.5 13.2 11.8 12.4" stroke="#a05050" stroke-width=".7" fill="none" opacity=".7"/></g></svg></span><span class="nm">Stefan<br>Hoffmann</span></div><div class="c due od" style="left:1242px"><svg width="12" height="12" viewBox="0 0 12 12" style="display:block;flex:none"><circle cx="6" cy="6" r="5.25" fill="none" stroke="#d32f2f" stroke-width="1.1"/><path d="M5.6 3.2V6.4L7.9 7.9" fill="none" stroke="#d32f2f" stroke-width="1.1"/></svg><span>14.3.2026</span></div></div>
<div class="row" style="top:950.5px;height:56px;background:#fafafa"><div style="position:absolute;left:1095px;top:0;bottom:0;width:1px;background:#fdfdfd"></div><div style="position:absolute;left:957px;top:0;bottom:0;width:1px;background:#fdfdfd"></div><div style="position:absolute;left:574px;top:0;bottom:0;width:1px;background:#fdfdfd"></div><div style="position:absolute;left:460px;top:0;bottom:0;width:1px;background:#fdfdfd"></div><div style="position:absolute;left:144px;top:0;bottom:0;width:1px;background:#fdfdfd"></div><div class="c" style="left:9px"><svg width="20" height="20" viewBox="0 0 24 24" style="display:block"><path fill="#757575" d="M16.59 8.59L12 13.17 7.41 8.59 6 10l6 6 6-6z"/></svg></div><div class="c ref" style="left:46px">TK-2026-<br>854</div><div class="c ttl" style="left:153px">Zugangsblockade durch Nachbarbaustelle</div><div class="c" style="left:583px"><span class="chip-o">Ticket</span></div><div class="c" style="left:651px"><span class="chip-s" style="background:#f44336">Offen</span></div><div class="c prog" style="left:773px;width:75px"><div class="bar" style="width:38px;background:#d1d5db"></div><span class="pct">0%</span></div><div class="c" style="left:865px"><span class="chip-p" style="background:#ffa726">Mittel</span></div><div class="c resp" style="left:1103px"><span class="av"><svg width="22" height="22" viewBox="-0.5 -0.5 22 22" style="display:block"><defs><clipPath id="c_dieter"><circle cx="10.5" cy="10.5" r="11"/></clipPath></defs><g clip-path="url(#c_dieter)"><rect x="-0.5" y="-0.5" width="22" height="22" fill="#c8ccd0"/><ellipse cx="10.5" cy="22.5" rx="9.5" ry="6.5" fill="#2a3040"/><rect x="8.5" y="12.5" width="4" height="5" fill="#d8a888"/><ellipse cx="10.5" cy="9.3" rx="4.4" ry="5.6" fill="#d8a888"/><path d="M5.9 9 Q5.5 2.4 10.5 2.4 Q15.5 2.4 15.1 9 Q14.6 5.6 10.5 5.3 Q6.4 5.6 5.9 9Z" fill="#3e2a1c"/><circle cx="8.6" cy="9" r=".65" fill="#2a1e18" opacity=".8"/><circle cx="12.4" cy="9" r=".65" fill="#2a1e18" opacity=".8"/><path d="M9.2 12.4 Q10.5 13.2 11.8 12.4" stroke="#a05050" stroke-width=".7" fill="none" opacity=".7"/></g></svg></span><span class="nm">Dieter<br>W...</span></div><div class="c due" style="left:1242px"><svg width="12" height="12" viewBox="0 0 12 12" style="display:block;flex:none"><circle cx="6" cy="6" r="5.25" fill="none" stroke="#616161" stroke-width="1.1"/><path d="M5.6 3.2V6.4L7.9 7.9" fill="none" stroke="#616161" stroke-width="1.1"/></svg><span>12.4.2026</span></div></div>
</div>
</div>
<div class="fab"><svg style="position:absolute;left:17px;top:17px" width="14" height="14" viewBox="0 0 14 14"><path d="M7 0v14M0 7h14" stroke="#fff" stroke-width="2"/></svg></div>
</body></html>
